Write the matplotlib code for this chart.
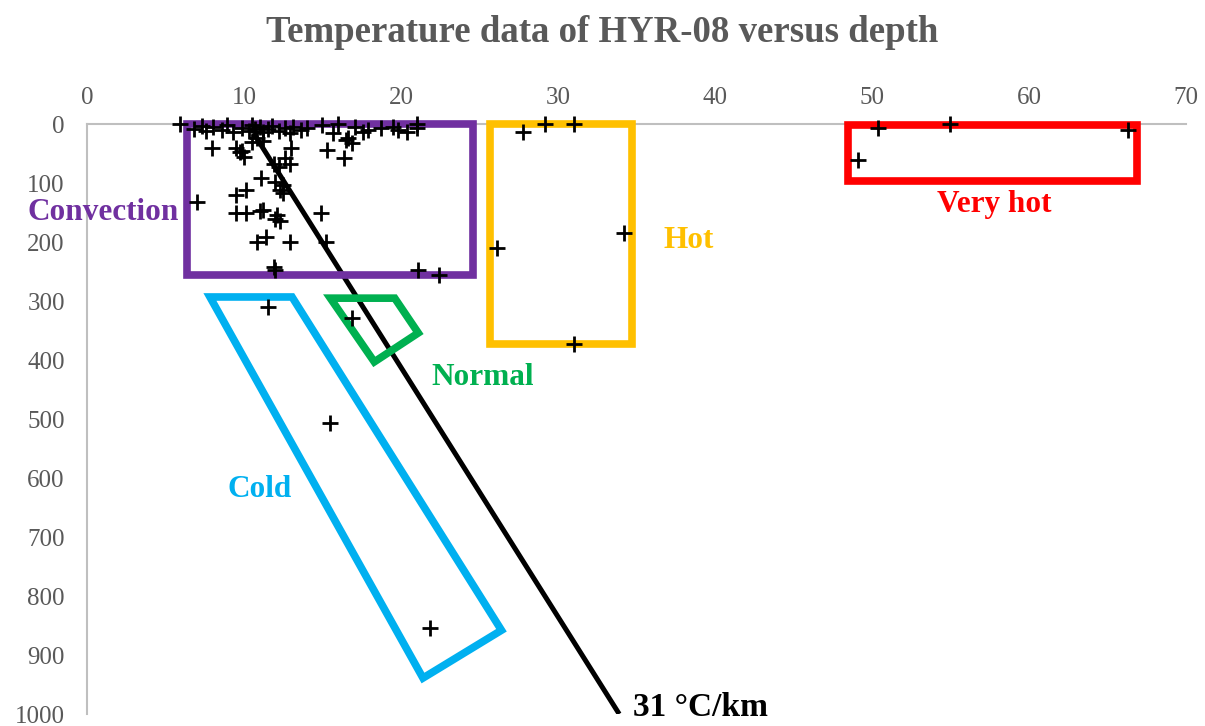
import matplotlib.pyplot as plt
from matplotlib.patches import Polygon

plt.rcParams['font.family'] = ['Liberation Serif', 'DejaVu Serif']

# measured temperatures (deg C) and depths (m)
temps = [5.9, 6.8, 7.3, 7.6, 8.0, 8.6, 8.9, 9.3, 9.85, 10.3, 10.5, 10.7, 11.0, 11.2,
         11.5, 11.8, 12.2, 12.6, 12.9, 13.1, 13.6, 14.0, 15.0, 15.7, 16.6, 16.9,
         17.6, 17.9, 18.7, 19.5, 19.8, 20.4, 21.0, 21.0, 17.1, 16.0,
         7.94, 9.75, 9.5, 10.0, 9.9, 10.8, 11.2, 10.5, 13.0, 15.3, 16.5, 16.4,
         11.9, 12.9, 12.2, 12.6, 11.1, 12.0, 12.5, 12.5, 12.3, 10.1, 9.5, 7.0,
         9.5, 10.1, 11.0, 11.2, 12.1, 12.3, 12.0, 14.9, 10.8, 11.4, 12.9, 15.2,
         11.9, 12.0, 21.1, 22.4,
         11.5, 16.9, 15.5, 21.85, 27.8, 29.2, 31.0, 34.2, 26.1, 31.0,
         50.4, 55.0, 66.3, 49.1]
depths = [0, 8, 3, 12, 5, 10, 2, 14, 6, 12, 2, 9, 4, 14,
          8, 3, 12, 6, 15, 4, 10, 6, 2, 15, 24, 32,
          14, 10, 7, 4, 10, 14, 7, 0, 4, 0,
          41, 47, 40, 55, 45, 24, 28, 30, 41, 44, 27, 58,
          67, 67, 72, 58, 92, 98, 103, 117, 112, 112, 120, 132,
          151, 151, 148, 145, 154, 165, 160, 151, 199, 191, 199, 199,
          242, 247, 247, 255,
          310, 329, 507, 854, 14, 0, 0, 185, 210, 372,
          7, 0, 10, 61]

# reference gradient line
grad_t = [10.6, 33.9]
grad_d = [15, 1000]

# zone outlines (temperature, depth)
convection_box = [(6.37, 0), (24.6, 0), (24.6, 256), (6.37, 256)]
hot_box = [(25.7, 0), (34.7, 0), (34.7, 373), (25.7, 373)]
very_hot_box = [(48.5, 2), (66.9, 2), (66.9, 97), (48.5, 97)]
normal_box = [(15.5, 295), (19.6, 295), (21.1, 354), (18.3, 403)]
cold_box = [(7.83, 293), (13.06, 293), (26.4, 858), (21.4, 939)]

fig = plt.figure(figsize=(12.05, 7.26), dpi=100)
ax = fig.add_axes([0.0722, 0.0165, 0.912, 0.8125])

ax.plot(grad_t, grad_d, color='black', lw=3.6, solid_capstyle='butt', zorder=3)

zones = [
    (convection_box, '#7030A0'),
    (hot_box, '#FFC000'),
    (very_hot_box, '#FF0000'),
    (normal_box, '#00B050'),
    (cold_box, '#00B0F0'),
]
for pts, col in zones:
    ax.add_patch(Polygon(pts, closed=True, fill=False, edgecolor=col, lw=5.5,
                         joinstyle='miter', clip_on=False, zorder=3))

ax.plot(temps, depths, linestyle='none', marker='+', color='black',
        markersize=11, markeredgewidth=2, clip_on=False, zorder=4)

ax.set_xlim(0, 70)
ax.set_ylim(1000, 0)
ax.xaxis.tick_top()
ax.set_xticks(range(0, 71, 10))
ax.set_yticks(range(0, 1001, 100))
ax.tick_params(length=0, labelsize=18, labelcolor='#595959')
ax.tick_params(axis='x', pad=11)
ax.tick_params(axis='y', pad=16)
for s in ['right', 'bottom']:
    ax.spines[s].set_visible(False)
for s in ['left', 'top']:
    ax.spines[s].set_color('#BFBFBF')
    ax.spines[s].set_linewidth(1.5)

lab = dict(fontsize=22.5, fontweight='bold', ha='center', va='center')
ax.text(1.0, 149, 'Convection', color='#7030A0', clip_on=False, **lab)
ax.text(38.3, 198, 'Hot', color='#FFC000', **lab)
ax.text(57.8, 136, 'Very hot', color='#FF0000', **lab)
ax.text(25.2, 429, 'Normal', color='#00B050', **lab)
ax.text(11.0, 620, 'Cold', color='#00B0F0', **lab)
fig.text(0.581, 0.004, '31 °C/km', color='black', fontsize=24,
         fontweight='bold', ha='center', va='bottom')

fig.text(0.5, 0.955, 'Temperature data of HYR-08 versus depth', ha='center',
         va='center', fontsize=26.5, fontweight='bold', color='#595959')

fig.savefig('out.png', dpi=100)
